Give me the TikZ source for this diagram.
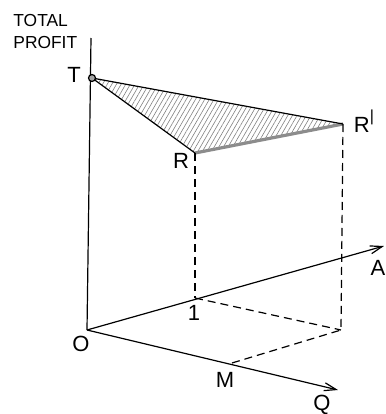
\documentclass[tikz,border=0pt]{standalone}
\usepackage{fontspec}
\setmainfont{Liberation Sans}
\usetikzlibrary{positioning, arrows.meta, patterns.meta}

\begin{document}
\begin{tikzpicture}[
        x=0.5pt, y=0.5pt,
        axis/.style={line width=0.6pt},
        axisarrow/.style={line width=0.6pt, -{Straight Barb[length=6pt, width=4pt]}},
        guide/.style={dashed, line width=0.6pt, dash pattern=on 4pt off 2.5pt},
        lbl/.style={inner sep=0pt, font=\fontsize{11}{13}\selectfont},
        caption/.style={inner sep=0pt, align=left, font=\fontsize{8.7}{11}\selectfont},
    ]
        \useasboundingbox (0,0) rectangle (386,414);
        % points of the diagram
        \coordinate (O) at (87,84);
        \coordinate (TOP) at (91,376);
        \coordinate (T) at (92,336);
        \coordinate (R) at (195,261);
        \coordinate (RP) at (343,290);
        \coordinate (ONE) at (195,116);
        \coordinate (C) at (341,84);
        \coordinate (M) at (232,51);
        \coordinate (ATIP) at (384,168);
        \coordinate (QTIP) at (338,24);
        % shaded profit surface
        \fill[pattern={Lines[angle=60, distance=2pt, line width=0.3pt]}, pattern color=black!50] (T) -- (R) -- (RP) -- cycle;
        \draw[line width=1.6pt, black!45] (R) -- (RP);
        \draw[line width=0.6pt] (R) -- (T) -- (RP);
        % axes
        \draw[axis] (O) -- (TOP);
        \draw[axisarrow] (O) -- (ATIP);
        \draw[axisarrow] (O) -- (QTIP);
        % dashed guides
        \draw[guide] (R) -- (ONE);
        \draw[guide] (RP) -- (C);
        \draw[guide] (ONE) -- (C);
        \draw[guide] (M) -- (C);
        \filldraw[fill=black!35, line width=0.6pt] (T) circle (3.5);
        % labels
        \node[caption, anchor=west] (TP) at (13,382) {TOTAL\\PROFIT};
        \node[lbl] (Tl) at (74,339) {T};
        \node[lbl] (Rl) at (181,253) {R};
        \node[lbl] (RPl) at (364,293) {R\raisebox{0.9ex}{\fontsize{8}{8}\selectfont\textbar}};
        \node[lbl] (Ol) at (81,70) {O};
        \node[lbl] (Ml) at (225,34) {M};
        \node[lbl] (Ql) at (322,9) {Q};
        \node[lbl] (Al) at (378,146) {A};
        \node[lbl] (ONEl) at (194,101) {1};
    \end{tikzpicture}
\end{document}
